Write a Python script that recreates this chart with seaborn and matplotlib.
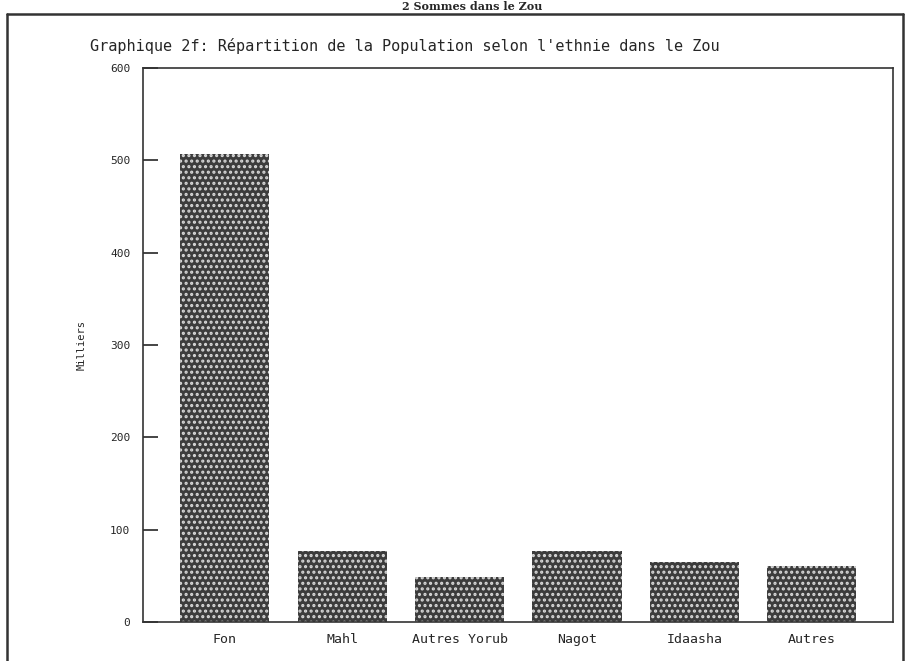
import matplotlib.pyplot as plt
import seaborn as sns
import pandas as pd
from matplotlib.lines import Line2D

ethnies = ['Fon', 'Mahl', 'Autres Yorub', 'Nagot', 'Idaasha', 'Autres']
milliers = [507, 77, 49, 77, 65, 61]
yticks = [0, 100, 200, 300, 400, 500, 600]

df = pd.DataFrame({'ethnie': ethnies, 'milliers': milliers})

sns.set_style('white')
plt.rcParams['font.family'] = ['DejaVu Sans Mono']
plt.rcParams['hatch.linewidth'] = 1.5

fig = plt.figure(figsize=(9.09, 6.61), dpi=100)
ax = fig.add_axes([0.157, 0.059, 0.825, 0.838])

sns.barplot(x='ethnie', y='milliers', data=df, color='#3c3c3c', width=0.76,
            linewidth=0, ax=ax)
for p in ax.patches:
    p.set_hatch('...')
    p.set_edgecolor('#d8d8d8')

ax.set_xlim(-0.70, 5.69)
ax.set_ylim(0, 600)
ax.set_yticks(yticks)
ax.set_yticklabels([str(v) for v in yticks], fontsize=8)
ax.tick_params(axis='y', direction='in', length=11, width=1.2, left=True, pad=9)
ax.tick_params(axis='x', length=0, labelsize=9.5, pad=8)
ax.set_xlabel('')
ax.set_ylabel('Milliers', fontsize=7.5, labelpad=0)
ax.yaxis.set_label_coords(-0.075, 0.5)
for s in ax.spines.values():
    s.set_linewidth(1.2)
    s.set_color('#333333')

fig.text(0.099, 0.93, "Graphique 2f: Répartition de la Population selon l'ethnie dans le Zou",
         fontsize=11, ha='left', va='center')

# bandeau du document (titre en haut de la page)
fig.text(0.52, 0.99, '2 Sommes dans le Zou', fontsize=8, fontweight='bold',
         family='DejaVu Serif', ha='center', va='center')

# cadre de la page
fig.add_artist(Line2D([0.008, 0.993], [0.979, 0.979], color='#333333', lw=1.8))
fig.add_artist(Line2D([0.008, 0.008], [0.0, 0.979], color='#333333', lw=1.8))
fig.add_artist(Line2D([0.993, 0.993], [0.0, 0.979], color='#333333', lw=1.8))

fig.savefig('out.png', dpi=100)
